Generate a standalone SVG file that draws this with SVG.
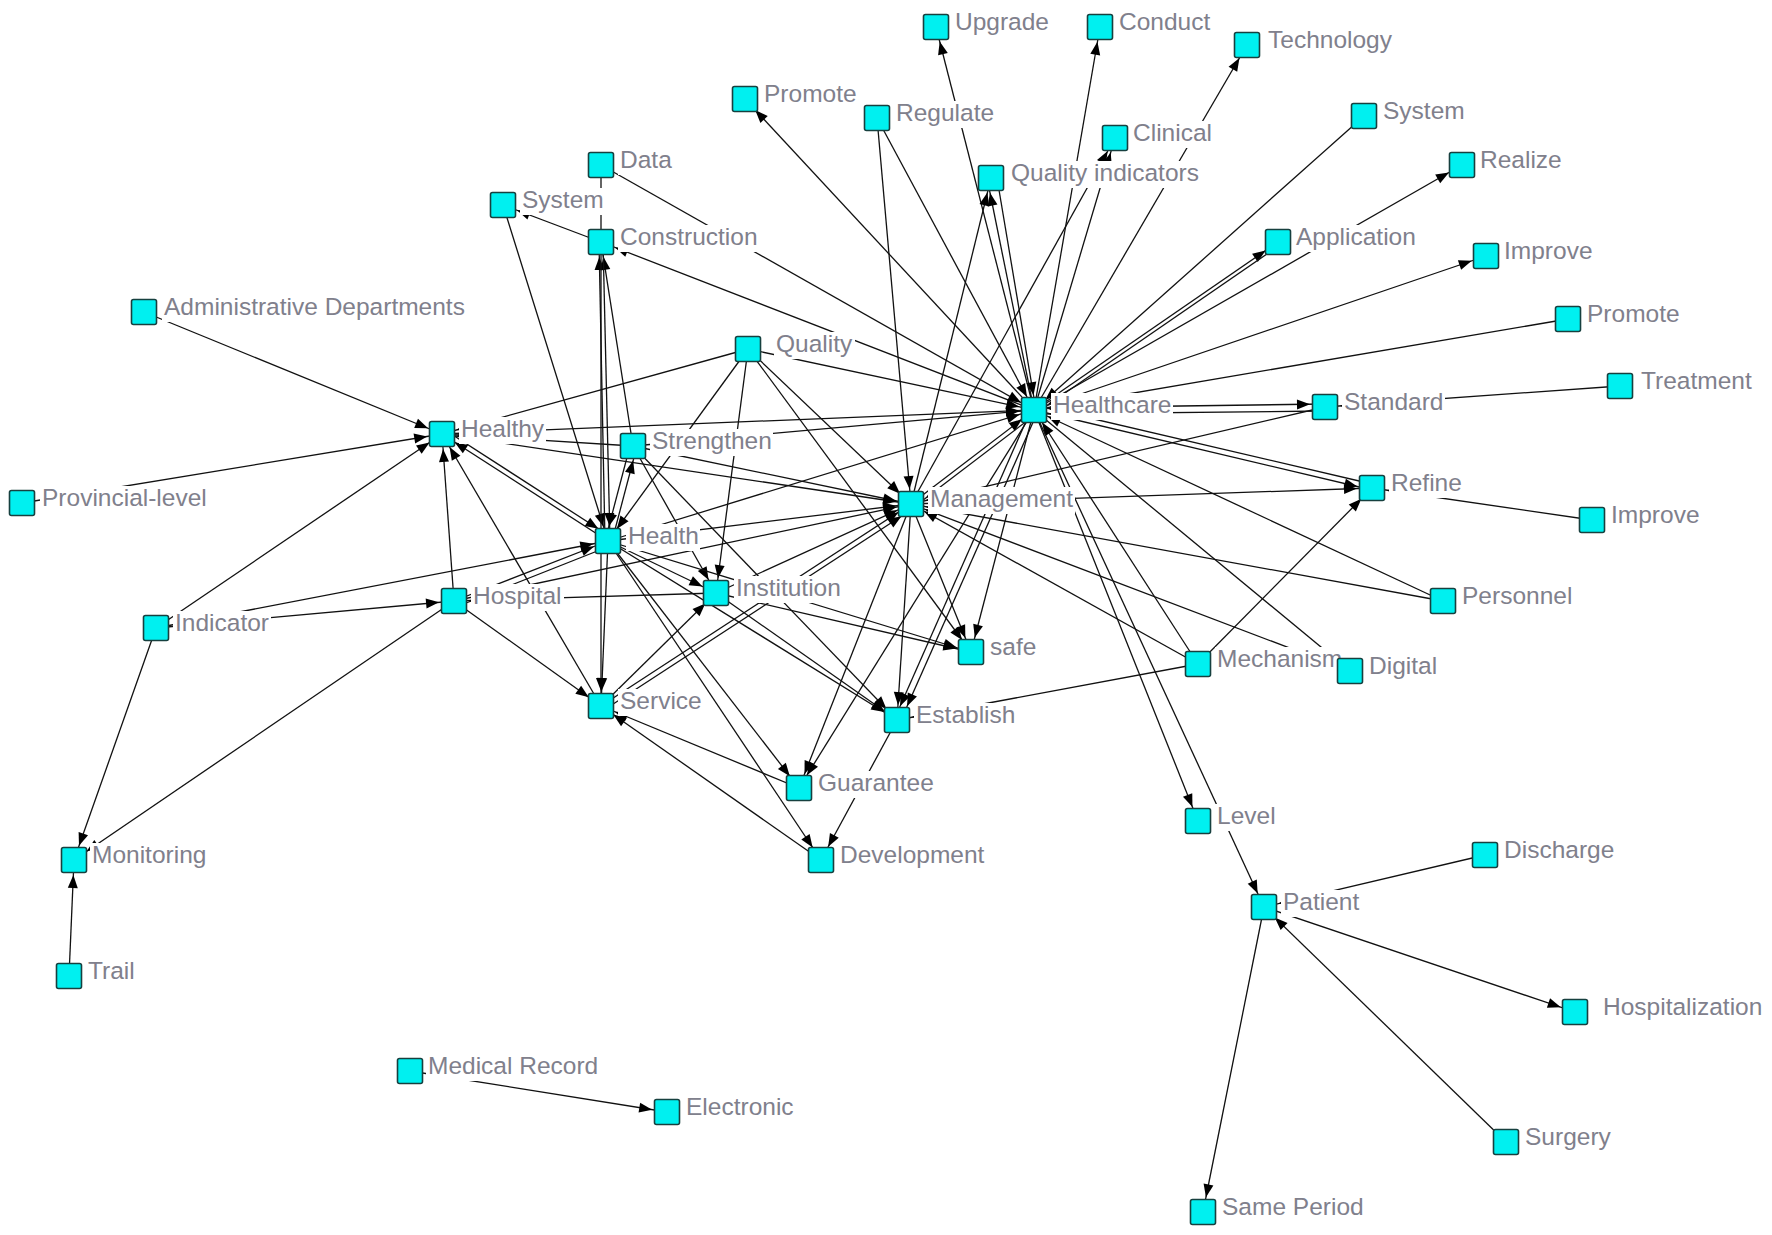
<svg xmlns="http://www.w3.org/2000/svg" width="1772" height="1235" viewBox="0 0 1772 1235">
<style>
.e{stroke:#111;stroke-width:1.3;fill:none;marker-end:url(#arr)}
.n{stroke:#111;stroke-width:1.3;fill:none}
.box{fill:#00F0F0;stroke:#17403f;stroke-width:1.6}
.lb{fill:#fff}
.t{font-family:"Liberation Sans",Arial,sans-serif;font-size:24.5px;fill:#80808c}
</style>
<defs>
<marker id="arr" markerUnits="userSpaceOnUse" markerWidth="30" markerHeight="12" refX="28" refY="5" orient="auto" overflow="visible">
<path d="M0,0 L13,5 L0,10 z" fill="#000"/>
</marker>
</defs>
<rect x="0" y="0" width="1772" height="1235" fill="#fff"/>
<g id="connectors">
<line class="e" x1="1034" y1="410" x2="936" y2="27"/>
<line class="e" x1="1034" y1="410" x2="1100" y2="27"/>
<line class="e" x1="1034" y1="410" x2="1247" y2="45"/>
<line class="e" x1="1034" y1="410" x2="745" y2="99"/>
<line class="e" x1="1034" y1="410" x2="1115" y2="138"/>
<line class="e" x1="1034" y1="410" x2="987" y2="178"/>
<line class="e" x1="997" y1="178" x2="1036" y2="410"/>
<line class="e" x1="1364" y1="116" x2="1034" y2="410"/>
<line class="e" x1="1034" y1="410" x2="1278" y2="242"/>
<line class="e" x1="1280" y1="245" x2="1036" y2="413"/>
<line class="e" x1="1034" y1="410" x2="1462" y2="165"/>
<line class="e" x1="1034" y1="410" x2="1486" y2="256"/>
<line class="e" x1="1568" y1="319" x2="1034" y2="410"/>
<line class="e" x1="1034" y1="408" x2="1325" y2="404"/>
<line class="e" x1="1325" y1="411" x2="1034" y2="414"/>
<line class="e" x1="1034" y1="410" x2="1372" y2="490"/>
<line class="e" x1="1372" y1="484" x2="1034" y2="405"/>
<line class="e" x1="1443" y1="601" x2="1034" y2="410"/>
<line class="e" x1="1198" y1="664" x2="1034" y2="410"/>
<line class="e" x1="1034" y1="410" x2="1350" y2="671"/>
<line class="e" x1="1034" y1="410" x2="1198" y2="821"/>
<line class="e" x1="1034" y1="410" x2="1264" y2="907"/>
<line class="e" x1="1034" y1="410" x2="799" y2="788"/>
<line class="e" x1="1031" y1="410" x2="894" y2="720"/>
<line class="e" x1="1038" y1="411" x2="901" y2="720"/>
<line class="e" x1="1034" y1="410" x2="971" y2="652"/>
<line class="e" x1="911" y1="504" x2="1034" y2="410"/>
<line class="e" x1="1036" y1="414" x2="914" y2="507"/>
<line class="e" x1="608" y1="541" x2="1034" y2="410"/>
<line class="e" x1="442" y1="434" x2="1034" y2="410"/>
<line class="e" x1="633" y1="446" x2="1034" y2="410"/>
<line class="e" x1="748" y1="349" x2="1034" y2="410"/>
<line class="e" x1="1034" y1="410" x2="601" y2="242"/>
<line class="e" x1="601" y1="165" x2="1034" y2="410"/>
<line class="e" x1="877" y1="118" x2="1034" y2="410"/>
<line class="e" x1="877" y1="118" x2="911" y2="504"/>
<line class="e" x1="911" y1="504" x2="991" y2="178"/>
<line class="e" x1="911" y1="504" x2="1115" y2="138"/>
<line class="e" x1="911" y1="504" x2="1372" y2="488"/>
<line class="e" x1="1325" y1="407" x2="911" y2="504"/>
<line class="e" x1="1443" y1="601" x2="911" y2="504"/>
<line class="e" x1="1198" y1="664" x2="911" y2="504"/>
<line class="e" x1="1350" y1="671" x2="911" y2="504"/>
<line class="e" x1="911" y1="504" x2="971" y2="652"/>
<line class="e" x1="911" y1="504" x2="897" y2="720"/>
<line class="e" x1="911" y1="504" x2="799" y2="788"/>
<line class="e" x1="608" y1="541" x2="911" y2="504"/>
<line class="e" x1="633" y1="446" x2="911" y2="504"/>
<line class="e" x1="442" y1="434" x2="911" y2="504"/>
<line class="e" x1="748" y1="349" x2="911" y2="504"/>
<line class="e" x1="716" y1="593" x2="911" y2="504"/>
<line class="e" x1="601" y1="706" x2="911" y2="504"/>
<line class="e" x1="604" y1="710" x2="914" y2="508"/>
<line class="e" x1="454" y1="601" x2="911" y2="504"/>
<line class="e" x1="601" y1="242" x2="503" y2="205"/>
<line class="e" x1="503" y1="205" x2="608" y2="541"/>
<line class="n" x1="601" y1="165" x2="601" y2="242"/>
<line class="e" x1="633" y1="446" x2="601" y2="242"/>
<line class="e" x1="605" y1="541" x2="599" y2="242"/>
<line class="e" x1="603" y1="242" x2="610" y2="541"/>
<line class="e" x1="601" y1="242" x2="601" y2="706"/>
<line class="e" x1="630" y1="446" x2="605" y2="541"/>
<line class="e" x1="612" y1="541" x2="637" y2="446"/>
<line class="e" x1="748" y1="349" x2="608" y2="541"/>
<line class="e" x1="748" y1="349" x2="716" y2="593"/>
<line class="e" x1="748" y1="349" x2="971" y2="652"/>
<line class="e" x1="748" y1="349" x2="442" y2="434"/>
<line class="e" x1="633" y1="446" x2="716" y2="593"/>
<line class="e" x1="633" y1="446" x2="897" y2="720"/>
<line class="e" x1="608" y1="541" x2="601" y2="706"/>
<line class="e" x1="608" y1="541" x2="716" y2="593"/>
<line class="e" x1="608" y1="541" x2="897" y2="720"/>
<line class="e" x1="608" y1="541" x2="799" y2="788"/>
<line class="e" x1="608" y1="541" x2="821" y2="860"/>
<line class="e" x1="608" y1="541" x2="971" y2="652"/>
<line class="e" x1="716" y1="593" x2="897" y2="720"/>
<line class="e" x1="716" y1="593" x2="971" y2="652"/>
<line class="e" x1="716" y1="593" x2="454" y2="601"/>
<line class="e" x1="601" y1="706" x2="716" y2="593"/>
<line class="e" x1="799" y1="788" x2="601" y2="706"/>
<line class="e" x1="821" y1="860" x2="601" y2="706"/>
<line class="e" x1="897" y1="720" x2="821" y2="860"/>
<line class="e" x1="1198" y1="664" x2="897" y2="720"/>
<line class="e" x1="1198" y1="664" x2="1372" y2="488"/>
<line class="e" x1="1620" y1="386" x2="1325" y2="407"/>
<line class="e" x1="1592" y1="520" x2="1372" y2="488"/>
<line class="e" x1="1485" y1="855" x2="1264" y2="907"/>
<line class="e" x1="1264" y1="907" x2="1575" y2="1012"/>
<line class="e" x1="1506" y1="1142" x2="1264" y2="907"/>
<line class="e" x1="1264" y1="907" x2="1203" y2="1212"/>
<line class="e" x1="410" y1="1071" x2="667" y2="1112"/>
<line class="e" x1="144" y1="312" x2="442" y2="434"/>
<line class="e" x1="22" y1="503" x2="442" y2="434"/>
<line class="e" x1="156" y1="628" x2="442" y2="434"/>
<line class="e" x1="156" y1="628" x2="608" y2="541"/>
<line class="e" x1="156" y1="628" x2="454" y2="601"/>
<line class="e" x1="156" y1="628" x2="74" y2="860"/>
<line class="e" x1="454" y1="601" x2="74" y2="860"/>
<line class="e" x1="69" y1="976" x2="74" y2="860"/>
<line class="e" x1="454" y1="601" x2="442" y2="434"/>
<line class="e" x1="454" y1="601" x2="601" y2="706"/>
<line class="e" x1="454" y1="601" x2="608" y2="541"/>
<line class="e" x1="601" y1="706" x2="442" y2="434"/>
<line class="e" x1="608" y1="541" x2="442" y2="434"/>
<line class="e" x1="445" y1="430" x2="611" y2="537"/>
<line class="e" x1="633" y1="446" x2="442" y2="434"/>
<line class="e" x1="610" y1="546" x2="456" y2="607"/>
</g>
<g id="n-upgrade"><rect class="box" x="923.5" y="14.5" width="25" height="25" rx="2"/><rect class="lb" x="953" y="10" width="98" height="27"/><text class="t" x="955" y="30">Upgrade</text></g>
<g id="n-conduct"><rect class="box" x="1087.5" y="14.5" width="25" height="25" rx="2"/><rect class="lb" x="1117" y="10" width="95" height="27"/><text class="t" x="1119" y="30">Conduct</text></g>
<g id="n-technology"><rect class="box" x="1234.5" y="32.5" width="25" height="25" rx="2"/><rect class="lb" x="1266" y="28" width="131" height="27"/><text class="t" x="1268" y="48">Technology</text></g>
<g id="n-promote-1"><rect class="box" x="732.5" y="86.5" width="25" height="25" rx="2"/><rect class="lb" x="762" y="82" width="97" height="27"/><text class="t" x="764" y="102">Promote</text></g>
<g id="n-regulate"><rect class="box" x="864.5" y="105.5" width="25" height="25" rx="2"/><rect class="lb" x="894" y="101" width="102" height="27"/><text class="t" x="896" y="121">Regulate</text></g>
<g id="n-clinical"><rect class="box" x="1102.5" y="125.5" width="25" height="25" rx="2"/><rect class="lb" x="1131" y="121" width="83" height="27"/><text class="t" x="1133" y="141">Clinical</text></g>
<g id="n-quality-indicators"><rect class="box" x="978.5" y="165.5" width="25" height="25" rx="2"/><rect class="lb" x="1009" y="161" width="192" height="27"/><text class="t" x="1011" y="181">Quality indicators</text></g>
<g id="n-system-1"><rect class="box" x="1351.5" y="103.5" width="25" height="25" rx="2"/><rect class="lb" x="1381" y="99" width="86" height="27"/><text class="t" x="1383" y="119">System</text></g>
<g id="n-realize"><rect class="box" x="1449.5" y="152.5" width="25" height="25" rx="2"/><rect class="lb" x="1478" y="148" width="86" height="27"/><text class="t" x="1480" y="168">Realize</text></g>
<g id="n-data"><rect class="box" x="588.5" y="152.5" width="25" height="25" rx="2"/><rect class="lb" x="618" y="148" width="56" height="27"/><text class="t" x="620" y="168">Data</text></g>
<g id="n-system-2"><rect class="box" x="490.5" y="192.5" width="25" height="25" rx="2"/><rect class="lb" x="520" y="188" width="86" height="27"/><text class="t" x="522" y="208">System</text></g>
<g id="n-construction"><rect class="box" x="588.5" y="229.5" width="25" height="25" rx="2"/><rect class="lb" x="618" y="225" width="142" height="27"/><text class="t" x="620" y="245">Construction</text></g>
<g id="n-application"><rect class="box" x="1265.5" y="229.5" width="25" height="25" rx="2"/><rect class="lb" x="1294" y="225" width="123" height="27"/><text class="t" x="1296" y="245">Application</text></g>
<g id="n-improve-1"><rect class="box" x="1473.5" y="243.5" width="25" height="25" rx="2"/><rect class="lb" x="1502" y="239" width="93" height="27"/><text class="t" x="1504" y="259">Improve</text></g>
<g id="n-administrative-departments"><rect class="box" x="131.5" y="299.5" width="25" height="25" rx="2"/><rect class="lb" x="162" y="295" width="305" height="27"/><text class="t" x="164" y="315">Administrative Departments</text></g>
<g id="n-promote-2"><rect class="box" x="1555.5" y="306.5" width="25" height="25" rx="2"/><rect class="lb" x="1585" y="302" width="97" height="27"/><text class="t" x="1587" y="322">Promote</text></g>
<g id="n-quality"><rect class="box" x="735.5" y="336.5" width="25" height="25" rx="2"/><rect class="lb" x="774" y="332" width="81" height="27"/><text class="t" x="776" y="352">Quality</text></g>
<g id="n-treatment"><rect class="box" x="1607.5" y="373.5" width="25" height="25" rx="2"/><rect class="lb" x="1639" y="369" width="115" height="27"/><text class="t" x="1641" y="389">Treatment</text></g>
<g id="n-healthcare"><rect class="box" x="1021.5" y="397.5" width="25" height="25" rx="2"/><rect class="lb" x="1051" y="393" width="122" height="27"/><text class="t" x="1053" y="413">Healthcare</text></g>
<g id="n-standard"><rect class="box" x="1312.5" y="394.5" width="25" height="25" rx="2"/><rect class="lb" x="1342" y="390" width="103" height="27"/><text class="t" x="1344" y="410">Standard</text></g>
<g id="n-healthy"><rect class="box" x="429.5" y="421.5" width="25" height="25" rx="2"/><rect class="lb" x="459" y="417" width="87" height="27"/><text class="t" x="461" y="437">Healthy</text></g>
<g id="n-strengthen"><rect class="box" x="620.5" y="433.5" width="25" height="25" rx="2"/><rect class="lb" x="650" y="429" width="123" height="27"/><text class="t" x="652" y="449">Strengthen</text></g>
<g id="n-provincial-level"><rect class="box" x="9.5" y="490.5" width="25" height="25" rx="2"/><rect class="lb" x="40" y="486" width="168" height="27"/><text class="t" x="42" y="506">Provincial-level</text></g>
<g id="n-refine"><rect class="box" x="1359.5" y="475.5" width="25" height="25" rx="2"/><rect class="lb" x="1389" y="471" width="74" height="27"/><text class="t" x="1391" y="491">Refine</text></g>
<g id="n-management"><rect class="box" x="898.5" y="491.5" width="25" height="25" rx="2"/><rect class="lb" x="928" y="487" width="147" height="27"/><text class="t" x="930" y="507">Management</text></g>
<g id="n-improve-2"><rect class="box" x="1579.5" y="507.5" width="25" height="25" rx="2"/><rect class="lb" x="1609" y="503" width="93" height="27"/><text class="t" x="1611" y="523">Improve</text></g>
<g id="n-health"><rect class="box" x="595.5" y="528.5" width="25" height="25" rx="2"/><rect class="lb" x="626" y="524" width="74" height="27"/><text class="t" x="628" y="544">Health</text></g>
<g id="n-institution"><rect class="box" x="703.5" y="580.5" width="25" height="25" rx="2"/><rect class="lb" x="734" y="576" width="109" height="27"/><text class="t" x="736" y="596">Institution</text></g>
<g id="n-hospital"><rect class="box" x="441.5" y="588.5" width="25" height="25" rx="2"/><rect class="lb" x="471" y="584" width="93" height="27"/><text class="t" x="473" y="604">Hospital</text></g>
<g id="n-personnel"><rect class="box" x="1430.5" y="588.5" width="25" height="25" rx="2"/><rect class="lb" x="1460" y="584" width="114" height="27"/><text class="t" x="1462" y="604">Personnel</text></g>
<g id="n-indicator"><rect class="box" x="143.5" y="615.5" width="25" height="25" rx="2"/><rect class="lb" x="173" y="611" width="98" height="27"/><text class="t" x="175" y="631">Indicator</text></g>
<g id="n-safe"><rect class="box" x="958.5" y="639.5" width="25" height="25" rx="2"/><rect class="lb" x="988" y="635" width="50" height="27"/><text class="t" x="990" y="655">safe</text></g>
<g id="n-mechanism"><rect class="box" x="1185.5" y="651.5" width="25" height="25" rx="2"/><rect class="lb" x="1215" y="647" width="129" height="27"/><text class="t" x="1217" y="667">Mechanism</text></g>
<g id="n-digital"><rect class="box" x="1337.5" y="658.5" width="25" height="25" rx="2"/><rect class="lb" x="1367" y="654" width="72" height="27"/><text class="t" x="1369" y="674">Digital</text></g>
<g id="n-service"><rect class="box" x="588.5" y="693.5" width="25" height="25" rx="2"/><rect class="lb" x="618" y="689" width="86" height="27"/><text class="t" x="620" y="709">Service</text></g>
<g id="n-establish"><rect class="box" x="884.5" y="707.5" width="25" height="25" rx="2"/><rect class="lb" x="914" y="703" width="103" height="27"/><text class="t" x="916" y="723">Establish</text></g>
<g id="n-guarantee"><rect class="box" x="786.5" y="775.5" width="25" height="25" rx="2"/><rect class="lb" x="816" y="771" width="119" height="27"/><text class="t" x="818" y="791">Guarantee</text></g>
<g id="n-level"><rect class="box" x="1185.5" y="808.5" width="25" height="25" rx="2"/><rect class="lb" x="1215" y="804" width="62" height="27"/><text class="t" x="1217" y="824">Level</text></g>
<g id="n-development"><rect class="box" x="808.5" y="847.5" width="25" height="25" rx="2"/><rect class="lb" x="838" y="843" width="148" height="27"/><text class="t" x="840" y="863">Development</text></g>
<g id="n-monitoring"><rect class="box" x="61.5" y="847.5" width="25" height="25" rx="2"/><rect class="lb" x="90" y="843" width="118" height="27"/><text class="t" x="92" y="863">Monitoring</text></g>
<g id="n-discharge"><rect class="box" x="1472.5" y="842.5" width="25" height="25" rx="2"/><rect class="lb" x="1502" y="838" width="114" height="27"/><text class="t" x="1504" y="858">Discharge</text></g>
<g id="n-patient"><rect class="box" x="1251.5" y="894.5" width="25" height="25" rx="2"/><rect class="lb" x="1281" y="890" width="80" height="27"/><text class="t" x="1283" y="910">Patient</text></g>
<g id="n-trail"><rect class="box" x="56.5" y="963.5" width="25" height="25" rx="2"/><rect class="lb" x="86" y="959" width="52" height="27"/><text class="t" x="88" y="979">Trail</text></g>
<g id="n-hospitalization"><rect class="box" x="1562.5" y="999.5" width="25" height="25" rx="2"/><rect class="lb" x="1601" y="995" width="161" height="27"/><text class="t" x="1603" y="1015">Hospitalization</text></g>
<g id="n-medical-record"><rect class="box" x="397.5" y="1058.5" width="25" height="25" rx="2"/><rect class="lb" x="426" y="1054" width="174" height="27"/><text class="t" x="428" y="1074">Medical Record</text></g>
<g id="n-electronic"><rect class="box" x="654.5" y="1099.5" width="25" height="25" rx="2"/><rect class="lb" x="684" y="1095" width="111" height="27"/><text class="t" x="686" y="1115">Electronic</text></g>
<g id="n-surgery"><rect class="box" x="1493.5" y="1129.5" width="25" height="25" rx="2"/><rect class="lb" x="1523" y="1125" width="90" height="27"/><text class="t" x="1525" y="1145">Surgery</text></g>
<g id="n-same-period"><rect class="box" x="1190.5" y="1199.5" width="25" height="25" rx="2"/><rect class="lb" x="1220" y="1195" width="146" height="27"/><text class="t" x="1222" y="1215">Same Period</text></g>
</svg>
